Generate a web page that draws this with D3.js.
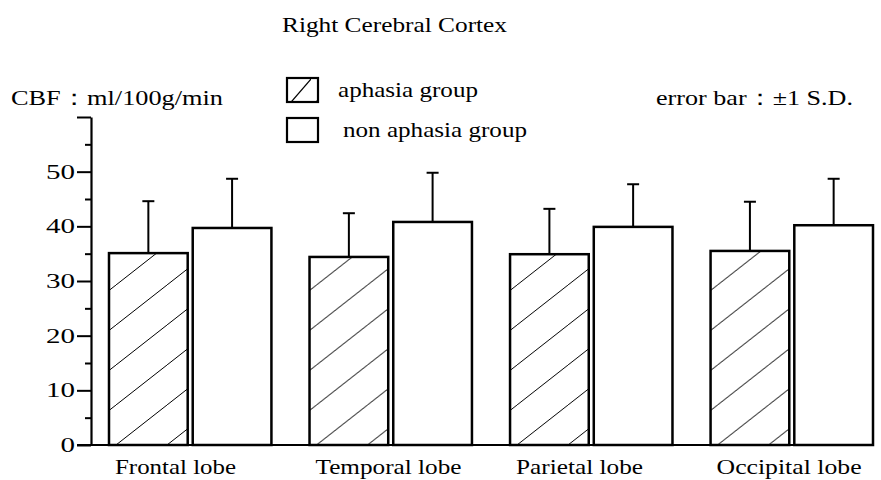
<!DOCTYPE html>
<html>
<head>
<meta charset="utf-8">
<script src="https://cdn.jsdelivr.net/npm/d3@7"></script>
<style>
body { margin: 0; background: #fff; }
text { font-family: "Liberation Serif", "DejaVu Serif", serif; fill: #000; }
</style>
</head>
<body>
<script>
// data
var lobes = ["Frontal lobe", "Temporal lobe", "Parietal lobe", "Occipital lobe"];
var groups = ["aphasia group", "non aphasia group"];
var aphasia = [35.1, 34.4, 34.9, 35.5];
var nonAphasia = [39.7, 40.8, 39.9, 40.2];
var aphasiaSD = [9.5, 8.0, 8.3, 9.0];
var nonAphasiaSD = [9.0, 9.0, 7.8, 8.5];
var majorTicks = [0, 10, 20, 30, 40, 50, 60];
var minorTicks = [5, 15, 25, 35, 45, 55];

var w = 881;
var h = 480;
var serif = "Liberation Serif, DejaVu Serif, serif";

var svg = d3.select("body")
	.append("svg")
	.attr("width", w)
	.attr("height", h);

svg.append("rect").attr("width", w).attr("height", h).attr("fill", "#fff");

var defs = svg.append("defs");
// diagonal hatch for bars
var pat = defs.append("pattern")
	.attr("id", "hatch")
	.attr("patternUnits", "userSpaceOnUse")
	.attr("width", 51).attr("height", 40)
	.attr("x", 109).attr("y", 5);
pat.append("line")
	.attr("x1", 0).attr("y1", 40).attr("x2", 51).attr("y2", 0)
	.attr("stroke", "#000").attr("stroke-width", 1);
// legend hatch (steeper, sparser)
var pat2 = defs.append("pattern")
	.attr("id", "hatchLegend")
	.attr("patternUnits", "userSpaceOnUse")
	.attr("width", 25).attr("height", 29)
	.attr("x", 286).attr("y", 79);
pat2.append("line")
	.attr("x1", 0).attr("y1", 29).attr("x2", 25).attr("y2", 0)
	.attr("stroke", "#000").attr("stroke-width", 1.2);

var y = d3.scaleLinear().domain([0, 60]).range([445, 117]);
var x0 = d3.scaleBand().domain(lobes).range([109, 873]).paddingInner(0.19).paddingOuter(0);
var x1 = d3.scaleBand().domain(groups).range([0, x0.bandwidth()]).paddingInner(0.06);

function fit(sel, len){
	sel.attr("textLength", len).attr("lengthAdjust", "spacingAndGlyphs")
		.attr("font-family", serif);
}

// y axis, major ticks
var axis = svg.append("g")
	.attr("transform", "translate(91,0)")
	.call(d3.axisLeft(y).tickValues(majorTicks).tickSize(14).tickSizeOuter(0).tickPadding(2)
		.tickFormat(function(d){ return d === 60 ? "" : d; }));
axis.attr("font-family", serif);
axis.select(".domain").attr("stroke-width", 2.2);
axis.selectAll(".tick line").attr("stroke-width", 2);
axis.selectAll(".tick text")
	.attr("font-size", 20)
	.each(function(d){
		if (d !== 60) fit(d3.select(this), String(d).length * 14.5);
	});

// minor ticks
var minor = svg.append("g")
	.attr("transform", "translate(91,0)")
	.call(d3.axisLeft(y).tickValues(minorTicks).tickSize(6).tickFormat(""));
minor.select(".domain").remove();
minor.selectAll(".tick line").attr("stroke-width", 2);

// baseline
svg.append("line")
	.attr("x1", 77).attr("x2", 873)
	.attr("y1", y(0)).attr("y2", y(0))
	.attr("stroke", "#000").attr("stroke-width", 2.2);

// bars
var rows = lobes.map(function(l, i){
	return [
		{lobe: l, g: groups[0], v: aphasia[i], sd: aphasiaSD[i]},
		{lobe: l, g: groups[1], v: nonAphasia[i], sd: nonAphasiaSD[i]}
	];
});

var grp = svg.selectAll("g.lobe")
	.data(rows)
	.enter()
	.append("g")
	.attr("class", "lobe")
	.attr("transform", function(d){ return "translate(" + x0(d[0].lobe) + ",0)"; });

// error bars drawn first so the bar outline sits on top
grp.selectAll("line.err")
	.data(function(d){ return d; })
	.enter()
	.append("line")
	.attr("class", "err")
	.attr("x1", function(d){ return x1(d.g) + x1.bandwidth() / 2; })
	.attr("x2", function(d){ return x1(d.g) + x1.bandwidth() / 2; })
	.attr("y1", function(d){ return y(d.v); })
	.attr("y2", function(d){ return y(d.v + d.sd); })
	.attr("stroke", "#000").attr("stroke-width", 2);

grp.selectAll("line.cap")
	.data(function(d){ return d; })
	.enter()
	.append("line")
	.attr("class", "cap")
	.attr("x1", function(d){ return x1(d.g) + x1.bandwidth() / 2 - 6; })
	.attr("x2", function(d){ return x1(d.g) + x1.bandwidth() / 2 + 6; })
	.attr("y1", function(d){ return y(d.v + d.sd); })
	.attr("y2", function(d){ return y(d.v + d.sd); })
	.attr("stroke", "#000").attr("stroke-width", 2);

grp.selectAll("rect")
	.data(function(d){ return d; })
	.enter()
	.append("rect")
	.attr("x", function(d){ return x1(d.g); })
	.attr("y", function(d){ return y(d.v); })
	.attr("width", x1.bandwidth())
	.attr("height", function(d){ return y(0) - y(d.v); })
	.attr("fill", function(d){ return d.g === groups[0] ? "url(#hatch)" : "#fff"; })
	.attr("stroke", "#000")
	.attr("stroke-width", 2.5);

// category labels
var labW = [121, 146, 127, 145];
svg.selectAll("text.cat")
	.data(lobes)
	.enter()
	.append("text")
	.attr("class", "cat")
	.attr("x", function(d){ return x0(d) + 6; })
	.attr("y", 474)
	.attr("font-size", 22)
	.text(function(d){ return d; })
	.each(function(d, i){ fit(d3.select(this), labW[i]); });

// title and annotations
fit(svg.append("text").attr("x", 282).attr("y", 32).attr("font-size", 22)
	.text("Right Cerebral Cortex"), 225);
fit(svg.append("text").attr("x", 11).attr("y", 105).attr("font-size", 22)
	.text("CBF：ml/100g/min"), 212);
fit(svg.append("text").attr("x", 656).attr("y", 105).attr("font-size", 22)
	.text("error bar：±1 S.D."), 197);

// legend
var legY = [78, 118];
var legX = [338, 343];
var legW = [140, 184];
groups.forEach(function(g, i){
	svg.append("rect")
		.attr("x", 287).attr("y", legY[i])
		.attr("width", 31).attr("height", 24)
		.attr("fill", i === 0 ? "url(#hatchLegend)" : "#fff")
		.attr("stroke", "#000").attr("stroke-width", 2.2);
	fit(svg.append("text").attr("x", legX[i]).attr("y", legY[i] + 19).attr("font-size", 22)
		.text(g), legW[i]);
});
</script>
</body>
</html>
